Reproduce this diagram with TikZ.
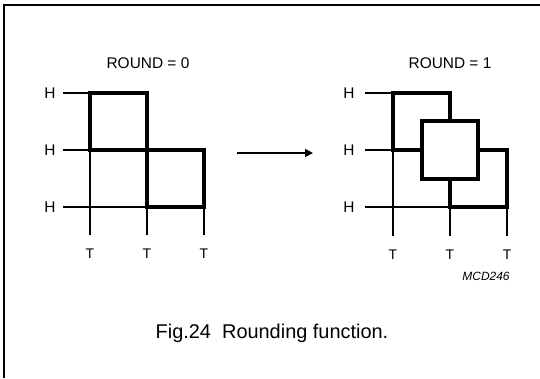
\documentclass[tikz,border=0pt]{standalone}
\usepackage{fontspec}
\setmainfont{Liberation Sans}
\usetikzlibrary{arrows.meta}
\begin{document}
\begin{tikzpicture}[x=1bp,y=-1bp,
  thinline/.style={line width=1.2bp},
  sq/.style={draw, line width=3.2bp, fill=white},
  framel/.style={line width=2.2bp},
  lab/.style={font=\fontsize{15.5}{18}\selectfont, inner sep=0pt},
  tlab/.style={font=\fontsize{14}{16}\selectfont, inner sep=0pt},
  codelab/.style={font=\fontsize{12}{14}\selectfont\itshape, inner sep=0pt},
  captext/.style={font=\fontsize{20}{24}\selectfont, inner sep=0pt}]
\useasboundingbox (0,0) rectangle (540,378);
\draw[framel] (4,378) -- (4,5) -- (540,5);

% ---- left: ROUND = 0
\node[lab] (t0) at (148,63) {ROUND = 0};
\node[lab] (h1) at (50,93) {H};
\node[lab] (h2) at (50,150) {H};
\node[lab] (h3) at (50,207) {H};
\coordinate (l1s) at (63,93);  \coordinate (l1e) at (90,93);
\coordinate (l2s) at (63,150); \coordinate (l2e) at (90,150);
\coordinate (l3s) at (63,207); \coordinate (l3e) at (147,207);
\draw[thinline] (l1s) -- (l1e);
\draw[thinline] (l2s) -- (l2e);
\draw[thinline] (l3s) -- (l3e);
\coordinate (v1s) at (90,150);  \coordinate (v1e) at (90,235);
\coordinate (v2s) at (147,207); \coordinate (v2e) at (147,235);
\coordinate (v3s) at (204,207); \coordinate (v3e) at (204,235);
\draw[thinline] (v1s) -- (v1e);
\draw[thinline] (v2s) -- (v2e);
\draw[thinline] (v3s) -- (v3e);
\draw[sq] (90,93) rectangle (147,150);
\draw[sq] (147,150) rectangle (204,207);
\node[tlab] (ta1) at (90,254) {T};
\node[tlab] (ta2) at (147,254) {T};
\node[tlab] (ta3) at (204,254) {T};

% ---- arrow
\coordinate (as) at (237,153);
\coordinate (ae) at (313,153);
\draw[line width=1.6bp, -{Triangle[length=8bp,width=8bp]}] (as) -- (ae);

% ---- right: ROUND = 1
\node[lab] (t1) at (450,63) {ROUND = 1};
\node[lab] (g1) at (349,93) {H};
\node[lab] (g2) at (349,150) {H};
\node[lab] (g3) at (349,207) {H};
\coordinate (r1s) at (365,93);  \coordinate (r1e) at (393,93);
\coordinate (r2s) at (365,150); \coordinate (r2e) at (393,150);
\coordinate (r3s) at (365,207); \coordinate (r3e) at (450,207);
\draw[thinline] (r1s) -- (r1e);
\draw[thinline] (r2s) -- (r2e);
\draw[thinline] (r3s) -- (r3e);
\coordinate (w1s) at (393,150); \coordinate (w1e) at (393,236);
\coordinate (w2s) at (450,207); \coordinate (w2e) at (450,236);
\coordinate (w3s) at (507,207); \coordinate (w3e) at (507,236);
\draw[thinline] (w1s) -- (w1e);
\draw[thinline] (w2s) -- (w2e);
\draw[thinline] (w3s) -- (w3e);
\draw[sq] (393,93) rectangle (450,150);
\draw[sq] (450,150) rectangle (507,207);
\draw[sq] (422,121) rectangle (478,179);
\node[tlab] (tb1) at (393,255) {T};
\node[tlab] (tb2) at (450,255) {T};
\node[tlab] (tb3) at (507,255) {T};
\node[codelab] (mcd) at (486,276) {MCD246};

% ---- caption
\node[captext] (caption) at (272,333) {Fig.24\ \ Rounding function.};
\end{tikzpicture}
\end{document}
